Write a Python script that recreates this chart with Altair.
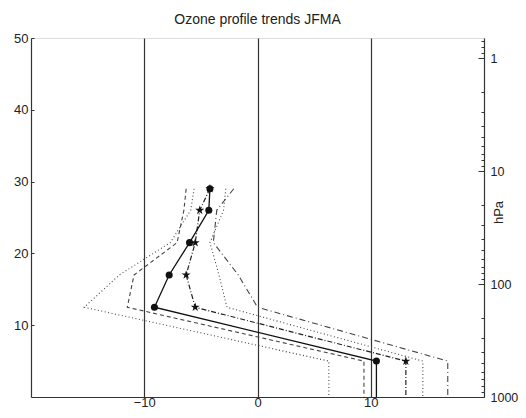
import altair as alt
import pandas as pd

title_text = "Ozone profile trends JFMA"

# altitude levels (km) of the profile; 0 = bottom drop line
altitude_km = [29, 26, 21.5, 17, 12.5, 5, 0]

# trends (%/decade)
trend_circle = [-4.2, -4.3, -6.0, -7.8, -9.1, 10.5, 10.5]
trend_star = [-4.2, -5.1, -5.5, -6.3, -5.5, 13.1, 13.1]
circle_low = [-5.6, -5.9, -7.7, -12.2, -15.3, 6.3, 6.3]
circle_high = [-2.8, -3.0, -4.2, -3.4, -2.7, 14.6, 14.6]
star_low = [-6.3, -6.5, -7.1, -10.9, -11.5, 9.4, 9.4]
star_high = [-2.1, -3.6, -3.9, -1.7, 0.0, 16.8, 16.8]

x_ticks = [-10, 0, 10]
alt_ticks = [10, 20, 30, 40, 50]
hpa_major = [1, 10, 100, 1000]
hpa_minor = [0.7, 0.8, 0.9, 2, 3, 4, 5, 6, 7, 8, 9, 20, 30, 40, 50, 60, 70, 80, 90,
             200, 300, 400, 500, 600, 700, 800, 900]

series = {
    "circle_low": circle_low,
    "circle_high": circle_high,
    "star_low": star_low,
    "star_high": star_high,
    "trend_star": trend_star,
    "trend_circle": trend_circle,
}
styles = {
    "circle_low": dict(strokeDash=[1, 2.5], color="#444", strokeWidth=1.1),
    "circle_high": dict(strokeDash=[1, 2.5], color="#444", strokeWidth=1.1),
    "star_low": dict(strokeDash=[4, 3], color="#444", strokeWidth=1.1),
    "star_high": dict(strokeDash=[6, 3, 1, 3], color="#444", strokeWidth=1.1),
    "trend_star": dict(strokeDash=[5, 2, 1, 2], color="#222", strokeWidth=1.2),
    "trend_circle": dict(color="#111", strokeWidth=1.3),
}

rows = []
for name, vals in series.items():
    for i, (z, v) in enumerate(zip(altitude_km, vals)):
        rows.append({"series": name, "alt": z, "trend": v, "order": i})
df = pd.DataFrame(rows)

W, H = 453, 359
FONT = "Liberation Sans"
xs = alt.Scale(domain=[-20, 20], nice=False, zero=False)
ys = alt.Scale(domain=[0, 50], nice=False, zero=False)

x_axis = alt.Axis(values=x_ticks, grid=True, gridColor="#333", gridWidth=1.2,
                  ticks=False, domainColor="#333", domainWidth=1.2,
                  labelFontSize=13, labelFont=FONT, labelColor="#222",
                  labelPadding=9, labelBaseline="alphabetic", labelFlush=False,
                  title="")
y_axis = alt.Axis(orient="right", offset=-W, values=alt_ticks, grid=False,
                  tickSize=3, tickColor="#333", domainColor="#333", domainWidth=1.2,
                  labelAlign="right", labelPadding=-6, labelFontSize=13,
                  labelFont=FONT, labelColor="#222", labelFlush=False, title="")

layers = []
first = True
for name in series:
    enc = dict(
        x=alt.X("trend:Q", scale=xs, axis=x_axis) if first else alt.X("trend:Q", scale=xs),
        y=alt.Y("alt:Q", scale=ys, axis=y_axis) if first else alt.Y("alt:Q", scale=ys),
        order="order:Q",
    )
    first = False
    layers.append(
        alt.Chart(df).transform_filter(alt.datum.series == name)
        .mark_line(**styles[name]).encode(**enc)
    )

star_path = ("M0,-1L0.223,-0.307L0.951,-0.309L0.361,0.117L0.588,0.809L0,0.38"
             "L-0.588,0.809L-0.361,0.117L-0.951,-0.309L-0.223,-0.307Z")

circles = alt.Chart(df).transform_filter(
    (alt.datum.series == "trend_circle") & (alt.datum.alt > 0)
).mark_point(shape="circle", filled=True, size=50, color="#111", opacity=1).encode(
    x=alt.X("trend:Q", scale=xs), y=alt.Y("alt:Q", scale=ys))
stars = alt.Chart(df).transform_filter(
    (alt.datum.series == "trend_star") & (alt.datum.alt > 0)
).mark_point(shape=star_path, filled=True, size=90, color="#111", opacity=1).encode(
    x=alt.X("trend:Q", scale=xs), y=alt.Y("alt:Q", scale=ys))

title_df = pd.DataFrame({"t": [title_text]})
title_mark = alt.Chart(title_df).mark_text(
    font=FONT, fontSize=14, color="#222", align="center", baseline="alphabetic"
).encode(text="t:N", x=alt.value(W / 2), y=alt.value(-14))

left = alt.layer(*layers, circles, stars, title_mark)

major_test = " || ".join(f"datum.value == {v}" for v in hpa_major)
p_axis = alt.Axis(
    orient="left", offset=-W, values=hpa_minor + hpa_major,
    labelExpr=f"({major_test}) ? format(datum.value, 'd') : ''",
    tickSize={"condition": {"test": major_test, "value": 6}, "value": 3},
    tickColor="#333", domainColor="#333", domainWidth=1.2,
    labelAlign="left", labelPadding=-12, labelFontSize=12.5, labelFont=FONT,
    labelColor="#222", labelOverlap=False, labelFlush=False,
    title="hPa", titleX=14, titleY=174, titleAngle=270, titleAlign="center",
    titleBaseline="middle", titleFont=FONT, titleFontSize=13,
    titleFontWeight="normal", titleColor="#222", grid=False,
)
pdf = pd.DataFrame({"p": hpa_major})
right = alt.Chart(pdf).mark_point(opacity=0).encode(
    y=alt.Y("p:Q", scale=alt.Scale(type="log", domain=[0.665, 1000], reverse=True, nice=False),
            axis=p_axis))

chart = alt.layer(left, right).resolve_scale(y="independent").properties(
    width=W, height=H,
    autosize=alt.AutoSizeParams(type="none"),
    padding={"left": 23, "top": 30, "right": 34, "bottom": 13},
).configure_view(strokeWidth=0).configure(background="white")

chart.save("out.html", embed_options={"renderer": "svg", "actions": False})
